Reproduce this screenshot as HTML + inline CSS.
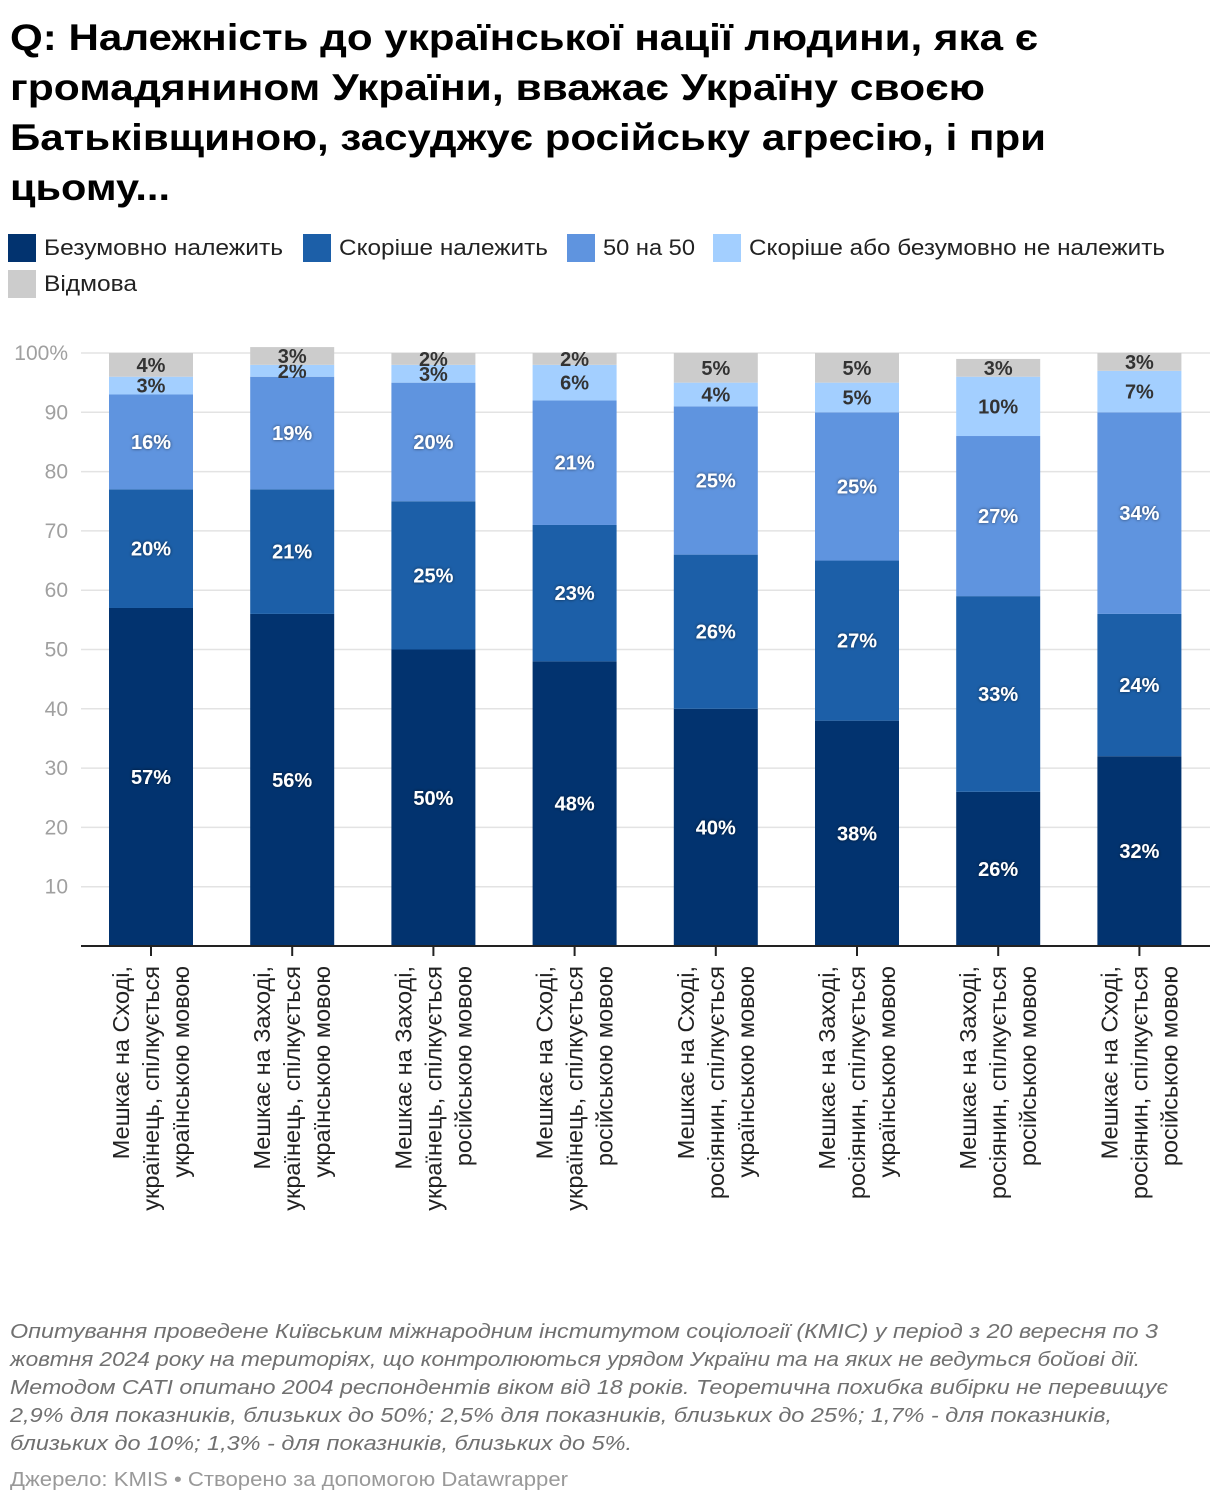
<!DOCTYPE html>
<html><head><meta charset="utf-8">
<style>
html,body{margin:0;padding:0;background:#fff;}
svg text{font-family:"Liberation Sans",sans-serif;}
</style></head>
<body>
<svg id="chart" width="1220" height="1504" viewBox="0 0 1220 1504" xmlns="http://www.w3.org/2000/svg">
<defs>
<filter id="sh" x="-20%" y="-40%" width="140%" height="180%"><feDropShadow dx="0" dy="0" stdDeviation="1.5" flood-color="#000" flood-opacity="0.6"/></filter>
</defs>
<g font-weight="bold" font-size="37" fill="#000">
<text x="10" y="50" textLength="1028" lengthAdjust="spacingAndGlyphs">Q: Належність до української нації людини, яка є</text>
<text x="10" y="100" textLength="975" lengthAdjust="spacingAndGlyphs">громадянином України, вважає Україну своєю</text>
<text x="10" y="150" textLength="1036" lengthAdjust="spacingAndGlyphs">Батьківщиною, засуджує російську агресію, і при</text>
<text x="10" y="200" textLength="160" lengthAdjust="spacingAndGlyphs">цьому...</text>
</g>
<g id="legend" font-size="22" fill="#222"></g>
<g id="grid"></g>
<g id="bars"></g>
<g id="xlabels" font-size="23.5" fill="#222"></g>
<g font-size="20" font-style="italic" fill="#707070">
<text x="10" y="1338" textLength="1148" lengthAdjust="spacingAndGlyphs">Опитування проведене Київським міжнародним інститутом соціології (КМІС) у період з 20 вересня по 3</text>
<text x="10" y="1366" textLength="1130" lengthAdjust="spacingAndGlyphs">жовтня 2024 року на територіях, що контролюються урядом України та на яких не ведуться бойові дії.</text>
<text x="10" y="1394" textLength="1158" lengthAdjust="spacingAndGlyphs">Методом CATI опитано 2004 респондентів віком від 18 років. Теоретична похибка вибірки не перевищує</text>
<text x="10" y="1422" textLength="1102" lengthAdjust="spacingAndGlyphs">2,9% для показників, близьких до 50%; 2,5% для показників, близьких до 25%; 1,7% - для показників,</text>
<text x="10" y="1450" textLength="622" lengthAdjust="spacingAndGlyphs">близьких до 10%; 1,3% - для показників, близьких до 5%.</text>
</g>
<text x="10" y="1486" font-size="20" fill="#999" textLength="558" lengthAdjust="spacingAndGlyphs">Джерело: KMIS • Створено за допомогою Datawrapper</text>
</svg>
<script>
const categories = [
 ["Мешкає на Сході,","українець, спілкується","українською мовою"],
 ["Мешкає на Заході,","українець, спілкується","українською мовою"],
 ["Мешкає на Заході,","українець, спілкується","російською мовою"],
 ["Мешкає на Сході,","українець, спілкується","російською мовою"],
 ["Мешкає на Сході,","росіянин, спілкується","українською мовою"],
 ["Мешкає на Заході,","росіянин, спілкується","українською мовою"],
 ["Мешкає на Заході,","росіянин, спілкується","російською мовою"],
 ["Мешкає на Сході,","росіянин, спілкується","російською мовою"]
];
const seriesNames = ["Безумовно належить","Скоріше належить","50 на 50","Скоріше або безумовно не належить","Відмова"];
const definitely = [57,56,50,48,40,38,26,32];
const rather = [20,21,25,23,26,27,33,24];
const fifty = [16,19,20,21,25,25,27,34];
const notBelong = [3,2,3,6,4,5,10,7];
const refused = [4,3,2,2,5,5,3,3];
const yTicks = [10,20,30,40,50,60,70,80,90,100];
const yTickLabels = ["10","20","30","40","50","60","70","80","90","100%"];

const colors = ["#02336f","#1c5fa8","#5f94df","#a3cfff","#cccccc"];
const darkText = [false,false,false,true,true];
const series = [definitely,rather,fifty,notBelong,refused];
const NS = "http://www.w3.org/2000/svg";
const y0 = 946, pxPer = 5.93;
const y = v => y0 - v*pxPer;
const barW = 84, x0 = 109, step = 141.2;
const bx = i => x0 + i*step;
function mk(tag, attrs, parent){const e=document.createElementNS(NS,tag);for(const k in attrs)e.setAttribute(k,attrs[k]);parent.appendChild(e);return e;}

// legend
const lg = document.getElementById('legend');
const legendPos = [[8,234],[303,234],[567,234],[713,234],[8,270]];
const legendW = [239,209,92,416,93];
seriesNames.forEach((n,i)=>{
 const g = mk('g',{},lg);
 
 
 mk('rect',{x:legendPos[i][0],y:legendPos[i][1],width:28,height:28,fill:colors[i]},g);
 const t = mk('text',{x:legendPos[i][0]+36,y:legendPos[i][1]+21,textLength:legendW[i],lengthAdjust:'spacingAndGlyphs'},g);
 t.textContent = n;
});

// grid
const gr = document.getElementById('grid');
yTicks.forEach((v,i)=>{
 const l = mk('line',{x1:81,x2:1210,y1:y(v),y2:y(v),stroke:'#e3e3e3','stroke-width':1.5},gr);
 
 
 const t = mk('text',{x:68,y:y(v)+7,'text-anchor':'end','font-size':21,fill:'#a0a0a0'},gr);
 
 
 t.textContent = yTickLabels[i];
});

// bars
const bg = document.getElementById('bars');
categories.forEach((c,i)=>{
 let acc = 0;
 series.forEach((s,k)=>{
  const v = s[i];
  const r = mk('rect',{x:bx(i),y:y(acc+v),width:barW,height:v*pxPer,fill:colors[k]},bg);
  
  
  const t = mk('text',{x:bx(i)+barW/2,y:y(acc+v/2)+7,'text-anchor':'middle','font-size':20,'font-weight':'bold',fill:darkText[k]?'#333':'#fff'},bg);
  if(!darkText[k]) t.setAttribute('filter','url(#sh)');
  
  
  t.textContent = v+'%';
  acc += v;
 });
});
mk('line',{x1:81,x2:1210,y1:y0,y2:y0,stroke:'#222','stroke-width':2},bg);

// x labels
const xl = document.getElementById('xlabels');
categories.forEach((c,i)=>{
 const cx = bx(i)+barW/2;
 mk('line',{x1:cx,x2:cx,y1:y0,y2:y0+10,stroke:'#222','stroke-width':2},xl);
 c.forEach((line,j)=>{
  const tx = cx + (j-1)*30 + 8, ty = 966;
  const t = mk('text',{x:tx,y:ty,'text-anchor':'end',transform:`rotate(-90 ${tx} ${ty})`},xl);
  
  
  t.textContent = line;
 });
});
</script>
</body></html>
